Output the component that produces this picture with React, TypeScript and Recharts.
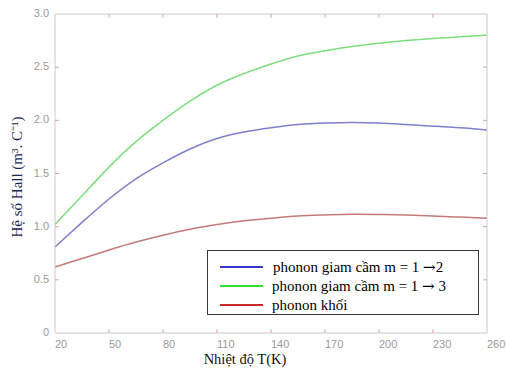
import React from 'react';
import { LineChart, Line, XAxis, YAxis } from 'recharts';

const temps = [20, 35, 50, 65, 80, 95, 110, 125, 140, 155, 170, 185, 200, 215, 230, 245, 260];
const confined12 = [0.81, 1.04, 1.26, 1.45, 1.6, 1.73, 1.83, 1.89, 1.93, 1.96, 1.975, 1.98, 1.975, 1.96, 1.945, 1.93, 1.91];
const confined13 = [1.02, 1.29, 1.56, 1.8, 2.0, 2.18, 2.33, 2.44, 2.53, 2.605, 2.655, 2.695, 2.725, 2.75, 2.77, 2.785, 2.8];
const bulk = [0.62, 0.7, 0.78, 0.855, 0.92, 0.975, 1.02, 1.055, 1.08, 1.1, 1.11, 1.117, 1.115, 1.11, 1.1, 1.09, 1.08];

const xTicks = [20, 50, 80, 110, 140, 170, 200, 230, 260];
const yTicks = [0, 0.5, 1.0, 1.5, 2.0, 2.5, 3.0];

const seriesNames = ['phonon giam cầm m = 1 →2', 'phonon giam cầm m = 1 → 3', 'phonon khối'];
const legendColors = ['#3535c8', '#2ee02e', '#c82a2a'];

const data = temps.map((t, i) => ({ t, a: confined12[i], b: confined13[i], c: bulk[i] }));

const FRAME = '#cfc8ca';
const TICKC = '#d9a3ad';
const LABELC = '#9a9a9a';
const SERIF = '"Liberation Serif", "Times New Roman", serif';

const BottomTick = (p: any) => (
  <g>
    {p.payload.value !== 20 && p.payload.value !== 260 && (
      <line x1={p.x} y1={p.y} x2={p.x} y2={p.y - 4} stroke={TICKC} />
    )}
    <text x={p.x} y={p.y + 15} textAnchor="start" fill={LABELC} fontSize={11} fontFamily="Liberation Sans, Arial, sans-serif">
      {p.payload.value}
    </text>
  </g>
);

const TopTick = (p: any) =>
  p.payload.value !== 20 && p.payload.value !== 260 ? (
    <line x1={p.x} y1={p.y} x2={p.x} y2={p.y + 4} stroke={TICKC} />
  ) : (
    <g />
  );

const LeftTick = (p: any) => (
  <g>
    {p.payload.value !== 0 && p.payload.value !== 3 && (
      <line x1={p.x} y1={p.y} x2={p.x + 4} y2={p.y} stroke={TICKC} />
    )}
    <text x={p.x - 6} y={p.y + 3} textAnchor="end" fill={LABELC} fontSize={11} fontFamily="Liberation Sans, Arial, sans-serif">
      {p.payload.value === 0 ? '0' : Number(p.payload.value).toFixed(1)}
    </text>
  </g>
);

const RightTick = (p: any) =>
  p.payload.value !== 0 && p.payload.value !== 3 ? (
    <line x1={p.x} y1={p.y} x2={p.x - 4} y2={p.y} stroke={TICKC} />
  ) : (
    <g />
  );

const renderName = (n: string) => {
  const parts = n.split('→');
  if (parts.length === 1) return n;
  return (
    <>
      {parts[0]}
      <span style={{ fontFamily: '"DejaVu Serif", serif', fontSize: 15 }}>→</span>
      {parts[1]}
    </>
  );
};

const LegendBox = () => (
  <div
    style={{
      position: 'absolute',
      left: 207,
      top: 250,
      width: 270,
      height: 63,
      border: '1px solid #3a3a3a',
      background: '#fff',
      boxSizing: 'content-box',
      fontFamily: SERIF,
      fontSize: 15,
      color: '#000',
    }}
  >
    {seriesNames.map((n, i) => (
      <div key={n} style={{ position: 'absolute', left: 12, top: 7 + i * 19, height: 18, display: 'flex', alignItems: 'center' }}>
        <div style={{ width: 43, height: 2.5, background: legendColors[i], marginRight: i === 0 ? 10 : 9 }} />
        <span style={{ whiteSpace: 'nowrap' }}>{renderName(n)}</span>
      </div>
    ))}
  </div>
);

export default function App() {
  return (
    <div style={{ position: 'absolute', left: 0, top: 0, width: 506, height: 376, background: '#fff' }}>
      <LineChart width={506} height={376} data={data} margin={{ top: 13, right: 18, bottom: 0, left: 0 }}>
        <XAxis
          dataKey="t"
          type="number"
          domain={[20, 260]}
          ticks={xTicks}
          interval={0}
          tickSize={0}
          tickMargin={0}
          height={43}
          axisLine={{ stroke: FRAME }}
          tickLine={false}
          tick={BottomTick}
          label={{
            content: () => (
              <text x={245} y={364} textAnchor="middle" fontSize={14.5} fill="#111" fontFamily={SERIF}>
                Nhiệt độ T(K)
              </text>
            ),
          }}
        />
        <XAxis
          xAxisId="top"
          orientation="top"
          dataKey="t"
          type="number"
          domain={[20, 260]}
          ticks={xTicks}
          interval={0}
          tickSize={0}
          tickMargin={0}
          height={1}
          axisLine={{ stroke: FRAME }}
          tickLine={false}
          tick={TopTick}
        />
        <YAxis
          type="number"
          domain={[0, 3]}
          ticks={yTicks}
          interval={0}
          tickSize={0}
          tickMargin={0}
          width={55}
          axisLine={{ stroke: FRAME }}
          tickLine={false}
          tick={LeftTick}
          label={{
            content: () => (
              <text
                x={22}
                y={177}
                transform="rotate(-90 22 177)"
                textAnchor="middle"
                fontSize={15}
                fill="#1e2552"
                fontFamily={SERIF}
              >
                Hệ số Hall (m³. C⁻¹)
              </text>
            ),
          }}
        />
        <YAxis
          yAxisId="right"
          orientation="right"
          type="number"
          domain={[0, 3]}
          ticks={yTicks}
          interval={0}
          tickSize={0}
          tickMargin={0}
          width={1}
          axisLine={{ stroke: FRAME }}
          tickLine={false}
          tick={RightTick}
        />
        <Line xAxisId="top" yAxisId="right" type="natural" dataKey="b" stroke="#7ddf7d" strokeWidth={1.5} dot={false} isAnimationActive={false} />
        <Line type="natural" dataKey="a" stroke="#7f7fcc" strokeWidth={1.5} dot={false} isAnimationActive={false} />
        <Line type="natural" dataKey="c" stroke="#c47a7a" strokeWidth={1.5} dot={false} isAnimationActive={false} />
      </LineChart>
      <LegendBox />
    </div>
  );
}
